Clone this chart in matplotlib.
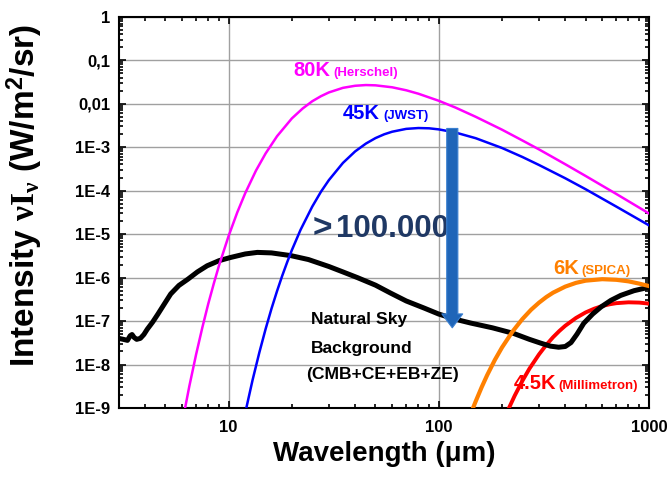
import matplotlib
matplotlib.use("Agg")
import matplotlib.pyplot as plt
from matplotlib.ticker import FixedLocator, FixedFormatter, LogLocator, NullFormatter

plt.rcParams['font.family'] = ['Liberation Sans', 'DejaVu Sans']
plt.rcParams['font.weight'] = 'bold'
plt.rcParams['mathtext.fontset'] = 'custom'
plt.rcParams['mathtext.rm'] = 'Liberation Serif:bold'
plt.rcParams['mathtext.it'] = 'Liberation Serif:bold'
plt.rcParams['mathtext.bf'] = 'Liberation Serif:bold'
plt.rcParams['mathtext.sf'] = 'Liberation Sans:bold'
plt.rcParams['mathtext.default'] = 'rm'

# ---- data ----
bg_wl = [3.0, 3.15, 3.3, 3.4, 3.47, 3.55, 3.65, 3.8, 3.95, 4.1, 4.35, 4.6, 4.95, 5.3, 5.8, 6.4,
         7.1, 7.9, 9, 10.2, 12, 13.7, 16, 19.8, 24, 30, 35, 41, 50, 59, 70, 85, 100, 120, 142,
         180, 227, 270, 306, 340, 372, 400, 426, 455, 490, 540, 591, 660, 735, 850, 1000]
bg_val = [4.0e-8, 3.8e-8, 3.6e-8, 4.6e-8, 4.9e-8, 4.2e-8, 3.8e-8, 4.0e-8, 4.9e-8, 6.5e-8,
          9.5e-8, 1.43e-7, 2.5e-7, 4.2e-7, 6.6e-7, 9.2e-7, 1.35e-6, 1.87e-6, 2.45e-6, 2.9e-6,
          3.5e-6, 3.8e-6, 3.7e-6, 3.2e-6, 2.6e-6, 1.8e-6, 1.35e-6, 1.0e-6, 6.7e-7, 4.4e-7,
          2.9e-7, 2.0e-7, 1.45e-7, 1.1e-7, 9.0e-8, 7.0e-8, 5.2e-8, 3.8e-8, 3.1e-8, 2.65e-8,
          2.5e-8, 2.6e-8, 3.2e-8, 5.0e-8, 8.9e-8, 1.45e-7, 2.1e-7, 3.0e-7, 3.9e-7, 5.0e-7, 6.0e-7]

k80_wl = [6.0, 6.5, 7, 7.5, 8, 8.5, 9, 10, 11, 12, 13.5, 15, 17, 20, 22.5, 25, 27.5, 30, 35, 40,
          45, 50, 60, 70, 80, 100, 120, 150, 200, 250, 300, 400, 500, 700, 1000]
k80_val = [4.3e-10, 3.17e-9, 1.7e-8, 7.17e-8, 2.5e-7, 7.3e-7, 1.9e-6, 9.1e-6, 3.19e-5, 8.8e-5,
           2.91e-4, 7.2e-4, 1.79e-3, 4.6e-3, 7.76e-3, 1.14e-2, 1.49e-2, 1.82e-2, 2.32e-2,
           2.59e-2, 2.69e-2, 2.65e-2, 2.39e-2, 2.04e-2, 1.70e-2, 1.17e-2, 8.18e-3, 5.0e-3,
           2.53e-3, 1.43e-3, 8.9e-4, 4.06e-4, 2.18e-4, 8.4e-5, 3.0e-5]

k45_wl = [12, 13, 14, 15, 16, 17, 18, 19, 20, 22, 25, 27.5, 30, 35, 40, 45, 50, 55, 60, 70, 80,
          90, 100, 120, 150, 200, 250, 300, 400, 500, 700, 1000]
k45_val = [7.8e-10, 4.4e-9, 1.89e-8, 6.6e-8, 1.94e-7, 4.9e-7, 1.11e-6, 2.27e-6, 4.3e-6, 1.26e-5,
           4.3e-5, 9.44e-5, 1.75e-4, 4.35e-4, 8.0e-4, 1.21e-3, 1.62e-3, 1.98e-3, 2.27e-3,
           2.64e-3, 2.76e-3, 2.72e-3, 2.57e-3, 2.18e-3, 1.61e-3, 9.6e-4, 5.96e-4, 3.9e-4,
           1.93e-4, 1.08e-4, 4.3e-5, 1.6e-5]

k6_wl = [145, 150, 160, 170, 185, 200, 225, 250, 275, 300, 325, 350, 400, 450, 500, 600, 700,
         800, 900, 1000]
k6_val = [9.5e-10, 1.43e-9, 3.0e-9, 5.7e-9, 1.28e-8, 2.47e-8, 5.83e-8, 1.11e-7, 1.82e-7,
          2.65e-7, 3.57e-7, 4.5e-7, 6.2e-7, 7.57e-7, 8.5e-7, 9.2e-7, 8.9e-7, 8.2e-7, 7.27e-7,
          6.4e-7]

k45m_wl = [215, 230, 250, 270, 300, 325, 350, 375, 400, 450, 500, 550, 600, 650, 700, 800, 900, 1000]
k45m_val = [9.6e-10, 1.93e-9, 4.2e-9, 8.0e-9, 1.71e-8, 2.83e-8, 4.25e-8, 5.92e-8, 7.8e-8,
            1.18e-7, 1.58e-7, 1.93e-7, 2.22e-7, 2.43e-7, 2.58e-7, 2.7e-7, 2.66e-7, 2.52e-7]

y_ticks = [1, 0.1, 0.01, 1e-3, 1e-4, 1e-5, 1e-6, 1e-7, 1e-8, 1e-9]
y_labels = ["1", "0,1", "0,01", "1E-3", "1E-4", "1E-5", "1E-6", "1E-7", "1E-8", "1E-9"]
x_ticks = [10, 100, 1000]
x_labels = ["10", "100", "1000"]

arrow_x = 116
arrow_top = 2.7e-3
arrow_bottom = 7e-8

# ---- figure ----
fig = plt.figure(figsize=(6.71, 4.80), dpi=100)
ax = fig.add_axes([0.177, 0.150, 0.790, 0.815])
ax.set_xscale('log')
ax.set_yscale('log')
ax.set_xlim(3.0, 1000)
ax.set_ylim(1e-9, 1)

ax.grid(True, which='major', color='#a0a0a0', linewidth=1.0)
ax.set_axisbelow(True)

ax.plot(k45m_wl, k45m_val, color='#ff0000', lw=2.8, zorder=3)
ax.plot(bg_wl, bg_val, color='black', lw=3.6, zorder=4)
ax.plot(k80_wl, k80_val, color='#ff00ff', lw=1.8, zorder=5)
ax.plot(k45_wl, k45_val, color='#0000ff', lw=1.8, zorder=5)
ax.plot(k6_wl, k6_val, color='#ff8000', lw=3.0, zorder=5)

ax.annotate('', xy=(arrow_x, arrow_bottom), xytext=(arrow_x, arrow_top),
            arrowprops=dict(arrowstyle='simple,head_width=1.5,head_length=1.0,tail_width=0.8',
                            mutation_scale=10, shrinkA=0, shrinkB=0,
                            facecolor='#1f65b8', edgecolor='#3a7fd0', lw=0.8),
            zorder=6)

ax.yaxis.set_major_locator(FixedLocator(y_ticks))
ax.yaxis.set_major_formatter(FixedFormatter(y_labels))
ax.yaxis.set_minor_locator(LogLocator(base=10, subs=range(2, 10), numticks=20))
ax.yaxis.set_minor_formatter(NullFormatter())
ax.xaxis.set_major_locator(FixedLocator(x_ticks))
ax.xaxis.set_major_formatter(FixedFormatter(x_labels))
ax.xaxis.set_minor_locator(LogLocator(base=10, subs=range(2, 10), numticks=20))
ax.xaxis.set_minor_formatter(NullFormatter())

ax.tick_params(which='both', direction='in', top=True, right=True, width=1.2)
ax.tick_params(which='major', length=5, labelsize=12)
ax.tick_params(axis='x', which='major', pad=9)
ax.tick_params(axis='y', which='major', pad=6)
ax.tick_params(which='minor', length=3)
for s in ax.spines.values():
    s.set_linewidth(1.5)
for lab in ax.get_xticklabels() + ax.get_yticklabels():
    lab.set_fontweight('bold')

ax.set_xlabel('Wavelength (\u03bcm)', fontsize=20, fontweight='bold', labelpad=4)
ax.set_ylabel('Intensity $\\nu I_{\\nu}$ (W/m$^{\\mathsf{2}}$/sr)', fontsize=24, fontweight='bold')
ax.yaxis.set_label_coords(-0.140, 0.542)

# annotations
ax.text(20.4, 0.0434, '80K', color='#ff00ff', fontsize=14.5, fontweight='bold')
ax.text(31.6, 0.0434, '(Herschel)', color='#ff00ff', fontsize=9.5, fontweight='bold')
ax.text(34.9, 4.4e-3, '45K', color='#0000ff', fontsize=14.5, fontweight='bold')
ax.text(54.6, 4.4e-3, '(JWST)', color='#0000ff', fontsize=9.5, fontweight='bold')
ax.text(25.0, 8.5e-6, '>', color='#1f3864', fontsize=24, fontweight='bold')
ax.text(32.3, 8.5e-6, '100.000', color='#1f3864', fontsize=22.5, fontweight='bold')
ax.text(24.6, 8.6e-8, 'Natural Sky', color='black', fontsize=12.6, fontweight='bold')
ax.text(24.6, 1.83e-8, 'Background', color='black', fontsize=12.6, fontweight='bold')
ax.text(23.5, 4.6e-9, '(CMB+CE+EB+ZE)', color='black', fontsize=12.6, fontweight='bold')
ax.text(352, 1.23e-6, '6K', color='#ff8000', fontsize=14.5, fontweight='bold')
ax.text(479, 1.23e-6, '(SPICA)', color='#ff8000', fontsize=9.5, fontweight='bold')
ax.text(227, 2.7e-9, '4.5K', color='#ff0000', fontsize=14.5, fontweight='bold')
ax.text(369, 2.7e-9, '(Millimetron)', color='#ff0000', fontsize=9.5, fontweight='bold')

fig.savefig('out.png', dpi=100)
